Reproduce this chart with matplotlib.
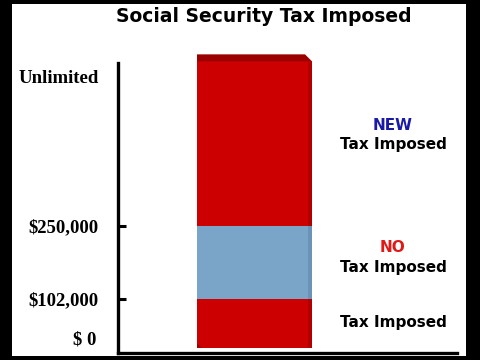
import matplotlib
matplotlib.use("Agg")
import matplotlib.pyplot as plt
from matplotlib.patches import Polygon

# ---- data (visual band heights) ----
segment_names = ["Tax Imposed", "NO Tax Imposed", "NEW Tax Imposed"]
segment_heights = [1.0, 1.5, 3.35]
segment_colors = ["#cc0000", "#7ba4c9", "#cc0000"]
level_labels = ["$ 0", "$102,000", "$250,000", "Unlimited"]

fig = plt.figure(figsize=(4.8, 3.6), dpi=100)
fig.patch.set_facecolor("black")

# white video frame
bg = fig.add_axes([12/480, 4/360, 454/480, 352/360])
bg.set_facecolor("white")
bg.set_xticks([]); bg.set_yticks([])
for s in bg.spines.values():
    s.set_visible(False)

ax = fig.add_axes([118/480, 7/360, 339/480, 290/360])
ax.set_facecolor("none")
px_y = 49.0   # pixels per y unit
px_x = 115.0  # pixels per x unit
ax.set_xlim(-0.5 - 79/px_x, 0.5 + 145/px_x)
ax.set_ylim(-5/px_y, -5/px_y + 290/px_y)

bottom = 0.0
bars = []
for h, c in zip(segment_heights, segment_colors):
    b = ax.bar(0, h, width=1.0, bottom=bottom, color=c, edgecolor="none", clip_on=False)
    bars.append(b[0])
    bottom += h
top = bottom

# 3D-ish top face and right shading
dx = 7/px_x
dy = 7/px_y
top_face = Polygon([(-0.5, top), (-0.5, top + dy), (0.5 - dx, top + dy), (0.5, top)],
                   closed=True, facecolor="#9a0000", edgecolor="none", clip_on=False)
ax.add_patch(top_face)
for r in bars:
    y0, h = r.get_y(), r.get_height()
    shade = "#b00000" if r.get_facecolor()[0] > 0.7 else "#6a93b8"
    ax.add_patch(Polygon([(0.5 - 4/px_x, y0), (0.5 - 4/px_x, y0 + h), (0.5, y0 + h), (0.5, y0)],
                         closed=True, facecolor=shade, edgecolor="none", clip_on=False))
# bottom-left chamfer
ax.add_patch(Polygon([(-0.5, 0), (-0.5, 5/px_y), (-0.5 + 5/px_x, 0)], closed=True,
                     facecolor="#a00000", edgecolor="none", clip_on=False))

# axes styling
for s in ["top", "right"]:
    ax.spines[s].set_visible(False)
ax.spines["left"].set_linewidth(2.4)
ax.spines["bottom"].set_linewidth(2.4)
ax.set_xticks([])
levels = [0.0, segment_heights[0], segment_heights[0] + segment_heights[1]]
ax.set_yticks(levels[1:])
ax.set_yticklabels(level_labels[1:3], fontfamily="Liberation Serif", fontweight="bold", fontsize=13.5)
ax.tick_params(axis="y", direction="in", length=6, width=2.2, pad=14, colors="black")

ytr = ax.get_yaxis_transform()
ax.text(-0.056, 5.51, level_labels[3], transform=ytr, ha="right", va="center",
        fontfamily="Liberation Serif", fontweight="bold", fontsize=13.5)
ax.text(-0.065, 0.16, level_labels[0], transform=ytr, ha="right", va="center",
        fontfamily="Liberation Serif", fontweight="bold", fontsize=13.5)

# right labels
lx = 1.204
fs = 11
ax.text(lx, 4.55, "NEW", color="#1a1aa8", ha="center", va="center", fontweight="bold", fontsize=fs)
ax.text(lx, 4.16, "Tax Imposed", color="black", ha="center", va="center", fontweight="bold", fontsize=fs)
ax.text(lx, 2.06, "NO", color="#e01818", ha="center", va="center", fontweight="bold", fontsize=fs)
ax.text(lx, 1.65, "Tax Imposed", color="black", ha="center", va="center", fontweight="bold", fontsize=fs)
ax.text(lx, 0.53, "Tax Imposed", color="black", ha="center", va="center", fontweight="bold", fontsize=fs)

fig.text(264/480, 1 - 17/360, "Social Security Tax Imposed", ha="center", va="center",
         fontweight="bold", fontsize=13.5)

fig.savefig("out.png", dpi=100, facecolor=fig.get_facecolor())
